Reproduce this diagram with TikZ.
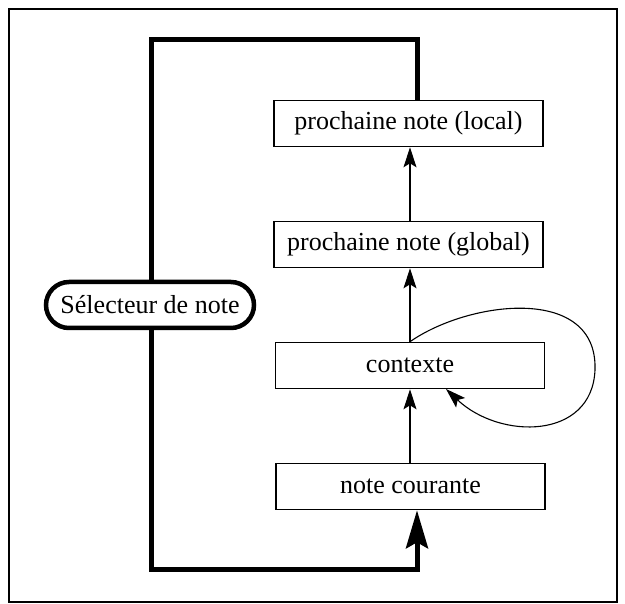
\documentclass[tikz,border=0pt]{standalone}
\usepackage{fontspec}
\setmainfont{Liberation Serif}
\usetikzlibrary{arrows.meta}
\begin{document}
\begin{tikzpicture}[x=1pt,y=-1pt,
  box/.style={draw, line width=1.6pt, minimum width=269pt, minimum height=46pt, inner sep=0pt, font=\fontsize{26}{30}\selectfont, fill=white},
  sel/.style={draw, line width=4.5pt, rounded corners=23pt, minimum width=208pt, minimum height=46pt, inner sep=0pt, font=\fontsize{26}{30}\selectfont},
  thick loop/.style={line width=5pt},
  thin arrow/.style={line width=1.1pt, -{Stealth[length=20pt,width=13pt,inset=4pt]}},
  big arrow/.style={line width=5pt, -{Stealth[length=38pt,width=22pt,inset=6pt]}}]
\useasboundingbox (0,0) rectangle (625,604);
\draw[line width=2pt] (9,9) rectangle (617,602);
\node[box] (local) at (408.5,123.5) {prochaine note (local)};
\node[box] (global) at (408.5,244.5) {prochaine note (global)};
\node[box] (ctx) at (410,365.5) {contexte};
\node[box] (cur) at (410.5,486.5) {note courante};
\node[sel] (sel) at (150,305) {Sélecteur de note};
\coordinate (tr) at (417,40);
\coordinate (tl) at (151,40);
\coordinate (bl) at (151,570);
\coordinate (br) at (417,570);
\draw[thick loop, line join=miter] (local.north -| tr) -- (tr) -- (tl) -- (sel.north -| tl);
\draw[big arrow, line join=miter] (sel.south -| bl) -- (bl) -- (br) -- (cur.south -| br);
\draw[thin arrow] (cur.north -| 410,0) -- (ctx.south -| 410,0);
\draw[thin arrow] (ctx.north -| 410,0) -- (global.south -| 410,0);
\draw[thin arrow] (global.north -| 410,0) -- (local.south -| 410,0);
\draw[thin arrow] (ctx.north -| 410,0) .. controls (470,300) and (598,285) .. (595,370) .. controls (592,440) and (500,440) .. (446,389);
\end{tikzpicture}
\end{document}
